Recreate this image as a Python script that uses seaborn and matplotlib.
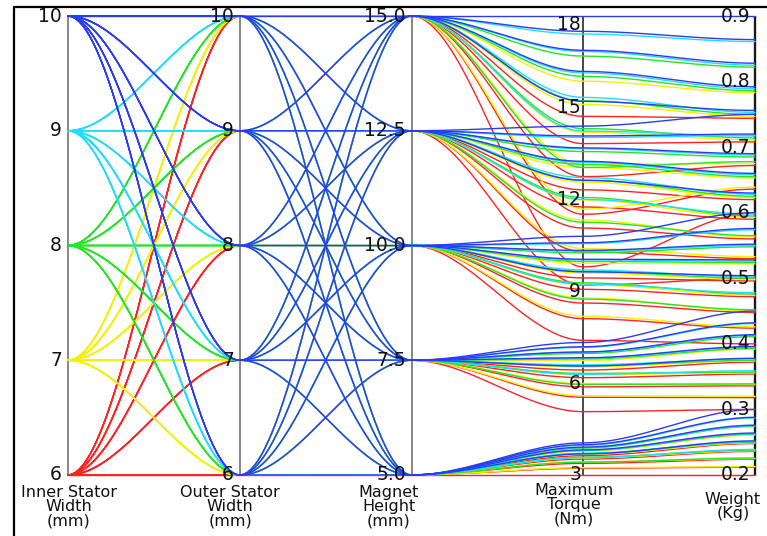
import numpy as np
import pandas as pd
import matplotlib
matplotlib.use("Agg")
import matplotlib.pyplot as plt
import seaborn as sns
from matplotlib.lines import Line2D

# ---- design levels -------------------------------------------------------
inner_stator = [6, 7, 8, 9, 10]          # mm
outer_stator = [6, 7, 8, 9, 10]          # mm
magnet_height = [5.0, 7.5, 10.0, 12.5, 15.0]  # mm

# ---- maximum torque (Nm): rows = inner stator width, cols = outer stator width
torque_h5 = [
    [3.00, 3.22, 3.38, 3.52, 3.63],
    [3.24, 3.43, 3.56, 3.68, 3.78],
    [3.42, 3.58, 3.70, 3.80, 3.88],
    [3.57, 3.71, 3.81, 3.90, 3.97],
    [3.69, 3.82, 3.91, 3.99, 4.05],
]
torque_h7_5 = [
    [5.07, 5.54, 5.88, 6.18, 6.43],
    [5.59, 5.99, 6.28, 6.53, 6.74],
    [5.96, 6.32, 6.57, 6.79, 6.97],
    [6.29, 6.60, 6.82, 7.01, 7.17],
    [6.56, 6.83, 7.02, 7.19, 7.33],
]
torque_h10 = [
    [7.40, 8.11, 8.62, 9.07, 9.44],
    [8.19, 8.79, 9.22, 9.60, 9.92],
    [8.75, 9.28, 9.65, 9.98, 10.26],
    [9.24, 9.70, 10.03, 10.32, 10.56],
    [9.64, 10.05, 10.34, 10.59, 10.80],
]
torque_h12_5 = [
    [9.20, 10.29, 11.07, 11.76, 12.32],
    [10.40, 11.33, 11.99, 12.57, 13.05],
    [11.26, 12.07, 12.64, 13.15, 13.57],
    [12.01, 12.72, 13.22, 13.66, 14.03],
    [12.63, 13.25, 13.69, 14.08, 14.40],
]
torque_h15 = [
    [9.80, 11.52, 12.75, 13.83, 14.72],
    [11.69, 13.15, 14.20, 15.11, 15.87],
    [13.05, 14.32, 15.23, 16.03, 16.69],
    [14.24, 15.34, 16.14, 16.84, 17.41],
    [15.21, 16.19, 16.88, 17.50, 18.00],
]

# ---- weight (kg): rows = inner stator width, cols = outer stator width
weight_h5 = [
    [0.200, 0.212, 0.224, 0.236, 0.248],
    [0.213, 0.225, 0.237, 0.249, 0.261],
    [0.226, 0.238, 0.250, 0.262, 0.274],
    [0.239, 0.251, 0.263, 0.275, 0.287],
    [0.252, 0.264, 0.276, 0.288, 0.300],
]
weight_h7_5 = [
    [0.300, 0.318, 0.336, 0.354, 0.372],
    [0.320, 0.338, 0.356, 0.374, 0.392],
    [0.339, 0.357, 0.375, 0.393, 0.411],
    [0.359, 0.377, 0.395, 0.413, 0.431],
    [0.378, 0.396, 0.414, 0.432, 0.450],
]
weight_h10 = [
    [0.400, 0.424, 0.448, 0.472, 0.496],
    [0.426, 0.450, 0.474, 0.498, 0.522],
    [0.452, 0.476, 0.500, 0.524, 0.548],
    [0.478, 0.502, 0.526, 0.550, 0.574],
    [0.504, 0.528, 0.552, 0.576, 0.600],
]
weight_h12_5 = [
    [0.500, 0.530, 0.560, 0.590, 0.620],
    [0.533, 0.563, 0.593, 0.623, 0.653],
    [0.565, 0.595, 0.625, 0.655, 0.685],
    [0.598, 0.628, 0.658, 0.688, 0.718],
    [0.630, 0.660, 0.690, 0.720, 0.750],
]
weight_h15 = [
    [0.600, 0.636, 0.672, 0.708, 0.744],
    [0.639, 0.675, 0.711, 0.747, 0.783],
    [0.678, 0.714, 0.750, 0.786, 0.822],
    [0.717, 0.753, 0.789, 0.825, 0.861],
    [0.756, 0.792, 0.828, 0.864, 0.900],
]

torque_tables = [torque_h5, torque_h7_5, torque_h10, torque_h12_5, torque_h15]
weight_tables = [weight_h5, weight_h7_5, weight_h10, weight_h12_5, weight_h15]

# ---- axes of the parallel-coordinate plot --------------------------------
axis_titles = ["Inner Stator\nWidth\n(mm)", "Outer Stator\nWidth\n(mm)",
               "Magnet\nHeight\n(mm)", "Maximum\nTorque\n(Nm)", "Weight\n(Kg)"]
axis_ranges = [(6, 10), (6, 10), (5, 15), (3, 18), (0.2, 0.9)]
isw_ticks = [6, 7, 8, 9, 10]
osw_ticks = [6, 7, 8, 9, 10]
mh_ticks = [5.0, 7.5, 10.0, 12.5, 15.0]
mh_tick_labels = ["5.0", "7.5", "10.0", "12.5", "15.0"]
torque_ticks = [3, 6, 9, 12, 15, 18]
weight_ticks = [0.2, 0.3, 0.4, 0.5, 0.6, 0.7, 0.8, 0.9]
weight_tick_labels = ["0.2", "0.3", "0.4", "0.5", "0.6", "0.7", "0.8", "0.9"]

palette = {6: "#ff2222", 7: "#f2f200", 8: "#22e622", 9: "#22dcff", 10: "#2a3cf0"}

# ---- long-form table of smooth curves ------------------------------------
def norm(v, k):
    lo, hi = axis_ranges[k]
    return (v - lo) / (hi - lo)

t = np.linspace(0.0, 1.0, 48)
ease = 3 * t**2 - 2 * t**3

records = []
design = 0
for m_idx, mh in enumerate(magnet_height):
    for i_idx, isw in enumerate(inner_stator):
        for o_idx, osw in enumerate(outer_stator):
            vals = [isw, osw, mh,
                    torque_tables[m_idx][i_idx][o_idx],
                    weight_tables[m_idx][i_idx][o_idx]]
            ys = [norm(v, k) for k, v in enumerate(vals)]
            for k in range(4):
                xs = k + t
                yy = ys[k] + (ys[k + 1] - ys[k]) * ease
                for xv, yv in zip(xs, yy):
                    records.append((design, isw, xv, yv))
            design += 1

df = pd.DataFrame(records, columns=["design", "ISW", "x", "y"])

# ---- figure --------------------------------------------------------------
sns.set_theme(style="white")
plt.rcParams["font.family"] = ["DejaVu Sans"]

W, H = 767, 536
fig = plt.figure(figsize=(W / 100, H / 100), dpi=100)
x0, x1, ytop, ybot = 68, 755, 16, 475
ax = fig.add_axes([x0 / W, 1 - ybot / H, (x1 - x0) / W, (ybot - ytop) / H])

def px(xp):
    return (xp - x0) / (x1 - x0) * 4

def py(yp):
    return (ybot - yp) / (ybot - ytop)

# vertical axis lines
axis_styles = [("#7d7d7d", 1.3), ("#7d7d7d", 1.3), ("#7d7d7d", 1.3),
               ("#2a2a2a", 1.2), ("#1a1a1a", 1.7)]
for k, (c, lw) in enumerate(axis_styles):
    ax.plot([k, k], [0, 1], color=c, lw=lw, zorder=1, clip_on=False,
            solid_capstyle="butt")

sns.lineplot(data=df, x="x", y="y", units="design", hue="ISW",
             hue_order=inner_stator, palette=palette, estimator=None,
             sort=False, legend=False, linewidth=1.0, ax=ax, zorder=2)
for ln in ax.lines:
    ln.set_clip_on(False)
ax.set_xlim(0, 4)
ax.set_ylim(0, 1)
ax.axis("off")

tick_fs = 13.5
tk = dict(fontsize=tick_fs, color="#111111", va="center", ha="right", zorder=5)

for v in isw_ticks:
    ax.text(px(62), norm(v, 0), str(v), **tk)
for v in osw_ticks:
    ax.text(px(234), norm(v, 1), str(v), **tk)
for v, lab in zip(mh_ticks, mh_tick_labels):
    ax.text(px(406), norm(v, 2), lab, **tk)
for v in torque_ticks:
    yv = norm(v, 3)
    if v == 18:
        yv = py(25)
    ax.text(px(581), yv, str(v), **tk)
for v, lab in zip(weight_ticks, weight_tick_labels):
    ax.text(px(750), norm(v, 4), lab, **tk)

# axis titles below each axis
title_pos = [(69, 485), (230, 485), (389, 485), (574, 483), (733, 492)]
for (xp, yp), title in zip(title_pos, axis_titles):
    ax.text(px(xp), py(yp), title, fontsize=11.5, color="#111111",
            ha="center", va="top", linespacing=0.92, zorder=5)

# outer frame
fig.add_artist(Line2D([13.5 / W, 1.0], [1 - 7 / H, 1 - 7 / H],
                      color="black", lw=1.6, transform=fig.transFigure))
fig.add_artist(Line2D([13.5 / W, 13.5 / W], [0.0, 1 - 7 / H],
                      color="black", lw=1.6, transform=fig.transFigure))

fig.savefig("out.png", dpi=100, facecolor="white")
